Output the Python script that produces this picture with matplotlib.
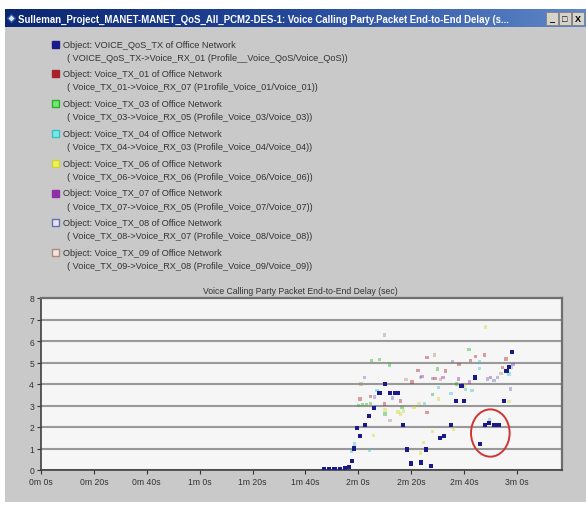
import numpy as np
import matplotlib
matplotlib.use('Agg')
import matplotlib.pyplot as plt
from matplotlib.patches import Rectangle, Ellipse
from matplotlib.colors import LinearSegmentedColormap

plt.rcParams['font.family'] = ['Liberation Sans', 'DejaVu Sans']

# Datos de la ventana
titulo_ventana = 'Sulleman_Project_MANET-MANET_QoS_All_PCM2-DES-1: Voice Calling Party.Packet End-to-End Delay (s...'
titulo_grafico = 'Voice Calling Party Packet End-to-End Delay (sec)'

objetos = ['VOICE_QoS_TX', 'Voice_TX_01', 'Voice_TX_03', 'Voice_TX_04',
           'Voice_TX_06', 'Voice_TX_07', 'Voice_TX_08', 'Voice_TX_09']
detalles = [
    '( VOICE_QoS_TX->Voice_RX_01 (Profile__Voice_QoS/Voice_QoS))',
    '( Voice_TX_01->Voice_RX_07 (P1rofile_Voice_01/Voice_01))',
    '( Voice_TX_03->Voice_RX_05 (Profile_Voice_03/Voice_03))',
    '( Voice_TX_04->Voice_RX_03 (Profile_Voice_04/Voice_04))',
    '( Voice_TX_06->Voice_RX_06 (Profile_Voice_06/Voice_06))',
    '( Voice_TX_07->Voice_RX_05 (Profile_Voice_07/Voice_07))',
    '( Voice_TX_08->Voice_RX_07 (Profile_Voice_08/Voice_08))',
    '( Voice_TX_09->Voice_RX_08 (Profile_Voice_09/Voice_09))',
]
colores = ['#1a1a8c', '#a8202c', '#22b522', '#2ec4c4', '#cfd62a', '#8e2fa8', '#6a6ab5', '#b08a7a']
rellenos = ['#1a1a8c', '#a8202c', '#7fe07f', '#7fe6e6', '#eef06a', '#8e2fa8', '#e4e4f0', '#f0e4e0']

# Tiempos (s) y retardos (s) de cada serie
t_qos = [107, 109, 111, 113, 115, 116.5, 117.5, 118.5, 119.5, 120.5, 122.5, 124, 126, 128, 130,
         132, 134, 135, 137, 138.5, 140, 143.6, 145.7, 147.5, 151, 152.5, 155, 157, 159, 160,
         164, 166, 168, 169.5, 171.5, 173, 175, 176, 177, 178]
v_qos = [0.05, 0.05, 0.05, 0.06, 0.08, 0.15, 0.4, 1.0, 1.95, 1.6, 2.1, 2.5, 2.9, 3.6, 4.0,
         3.6, 3.6, 3.6, 2.1, 0.95, 0.3, 0.35, 0.95, 0.2, 1.5, 1.6, 2.1, 3.2, 3.9, 3.2,
         4.3, 1.2, 2.1, 2.2, 2.1, 2.1, 3.2, 4.6, 4.8, 5.5]

t_tx01 = [120.6, 124.5, 129.9, 136, 140.3, 142.6, 146, 146, 149, 153, 158, 162.5, 164.2, 167.6, 174.5, 175.8]
v_tx01 = [3.3, 3.43, 3.07, 3.2, 4.1, 4.62, 5.24, 2.68, 4.25, 4.6, 4.9, 5.08, 5.28, 5.35, 4.78, 5.16]

t_tx03 = [120, 121.5, 123, 124.5, 125, 127.9, 130, 131.7, 136.5, 148, 150, 157, 161.9]
v_tx03 = [3.0, 3.05, 3.05, 3.1, 5.1, 5.13, 2.6, 4.88, 2.9, 3.5, 4.7, 4.0, 5.6]

t_tx04 = [117.5, 118.5, 124.1, 127, 145, 150.4, 155, 160.5, 163, 165.9, 165.9, 169.5, 177, 178]
v_tx04 = [0.85, 1.2, 0.9, 3.7, 3.1, 3.85, 3.55, 3.75, 3.7, 5.04, 4.73, 2.35, 4.47, 4.78]

t_tx06 = [125.7, 130, 135, 136, 137, 141, 143, 143.5, 144.7, 148, 150.4, 156, 160, 168, 177]
v_tx06 = [1.6, 2.8, 2.7, 2.6, 2.75, 2.9, 3.1, 0.8, 1.27, 1.8, 3.3, 1.9, 3.9, 6.65, 3.18]

t_tx07 = [144, 152, 157.8, 159.3, 162, 170, 178.5]
v_tx07 = [4.35, 4.3, 4.23, 3.95, 4.1, 4.3, 4.9]

t_tx08 = [122.3, 126, 133, 148, 155.7, 168.8, 171.3, 172.6, 177.6]
v_tx08 = [4.31, 3.4, 3.35, 4.25, 5.05, 4.23, 4.15, 4.3, 3.77]

t_tx09 = [121, 129.9, 132, 138, 143.5, 148.7, 151, 174]
v_tx09 = [4.0, 6.28, 2.3, 4.2, 4.3, 5.35, 4.2, 4.5]

series_t = [t_qos, t_tx01, t_tx03, t_tx04, t_tx06, t_tx07, t_tx08, t_tx09]
series_v = [v_qos, v_tx01, v_tx03, v_tx04, v_tx06, v_tx07, v_tx08, v_tx09]

x_ticks = [0, 20, 40, 60, 80, 100, 120, 140, 160, 180]
x_labels = ['%dm %ds' % (s // 60, s % 60) for s in x_ticks]
y_ticks = [0, 1, 2, 3, 4, 5, 6, 7, 8]

# Circulo rojo marcado a mano (centro y tamaño en segundos / retardo)
circulo_centro = (169.9, 1.72)
circulo_ancho, circulo_alto = 14.6, 2.2

W, H = 586, 506
fig = plt.figure(figsize=(W / 100, H / 100), dpi=100)
fig.patch.set_facecolor('white')

# Fondo en coordenadas de pixel
bg = fig.add_axes([0, 0, 1, 1])
bg.set_xlim(0, W)
bg.set_ylim(H, 0)
bg.axis('off')
bg.add_patch(Rectangle((5, 10), W - 5, 493, facecolor='#c9c9c9', edgecolor='none'))

# Barra de titulo con degradado
cmap = LinearSegmentedColormap.from_list('barra', ['#0b2670', '#24489a', '#5f88c8'])
bg.imshow(np.linspace(0, 1, 256).reshape(1, -1), cmap=cmap, extent=(5, W, 28, 10), aspect='auto', zorder=1)
bg.plot([11], [19], marker='D', markersize=4, color='#d8e4f8', markeredgecolor='#3050a0', zorder=3)
bg.text(18, 19.5, titulo_ventana, color='white', fontsize=6.9, fontweight='bold', va='center', ha='left', zorder=3)
for i, simbolo in enumerate(['_', '\u25a1', 'X']):
    x0 = 546 + i * 13
    bg.add_patch(Rectangle((x0, 12.5), 12, 13, facecolor='#d6d3cc', edgecolor='#808080', lw=0.6, zorder=3))
    bg.text(x0 + 6, 19.5, simbolo, fontsize=6.5, fontweight='bold', ha='center', va='center', color='black', zorder=4)

# Leyenda
for i, nombre in enumerate(objetos):
    y = 45 + i * 29.8
    bg.add_patch(Rectangle((52, y - 3.5), 7, 7, facecolor=rellenos[i], edgecolor=colores[i], lw=1.0, zorder=3))
    bg.text(63, y, 'Object: %s of Office Network' % nombre, fontsize=6.6, color='#333333', va='center', ha='left')
    bg.text(67, y + 13, detalles[i], fontsize=6.6, color='#333333', va='center', ha='left')

bg.text(300, 291, titulo_grafico, fontsize=6.2, color='#333333', ha='center', va='center')

# Grafico principal
left, right, top, bottom = 41, 562, 299, 471
ax = fig.add_axes([left / W, (H - bottom) / H, (right - left) / W, (bottom - top) / H])
ax.set_facecolor('#f6f6f6')
ax.set_xlim(0, 197)
ax.set_ylim(0, 8)
ax.set_xticks(x_ticks)
ax.set_xticklabels(x_labels)
ax.set_yticks(y_ticks)
ax.tick_params(labelsize=6.2, colors='#333333', length=3, width=0.8, pad=2)
ax.grid(axis='y', color='#999999', lw=1.5)
ax.set_axisbelow(True)
for lado in ['left', 'bottom']:
    ax.spines[lado].set_color('#404040')
    ax.spines[lado].set_linewidth(1.2)
for lado in ['top', 'right']:
    ax.spines[lado].set_color('#6e6e6e')
    ax.spines[lado].set_linewidth(1.6)

for i in range(len(objetos) - 1, -1, -1):
    if i == 0:
        ax.scatter(series_t[i], series_v[i], marker='s', s=9, color=colores[i], edgecolors='none', zorder=5)
    else:
        ax.scatter(series_t[i], series_v[i], marker='s', s=6, color=colores[i], alpha=0.42,
                   edgecolors='none', zorder=4)

ax.add_patch(Ellipse(circulo_centro, circulo_ancho, circulo_alto, fill=False, edgecolor='#d03535', lw=1.4, zorder=6))

plt.savefig('out.png', dpi=100)
plt.close()
